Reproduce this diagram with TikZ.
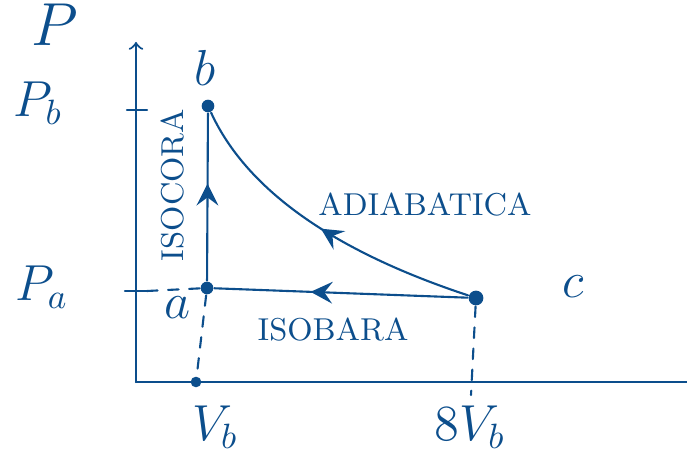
\documentclass[tikz,border=0pt]{standalone}
\usetikzlibrary{decorations.markings}
\definecolor{ink}{RGB}{12,78,140}
\tikzset{
  midarrow/.style={postaction={decorate},decoration={markings,mark=at position #1 with {\arrow[scale=1.7]{stealth}}}},
  punto/.style={circle,fill=ink,inner sep=0pt,minimum size=3.6pt},
  scritta/.style={font=\small}
}
\begin{document}
\begin{tikzpicture}[line join=round, line cap=round,>=stealth,color=ink,semithick]
			\useasboundingbox (0,0) rectangle (6.87,4.53);
			% assi
			\draw[-to] (1.36,0.71)--(1.36,4.11);
			\draw (1.36,0.71)--(6.87,0.71);
			\node at (0.55,4.28) {\LARGE $P$};
			% stati
			\node[punto] (a) at (2.07,1.65) {};
			\node[punto] (b) at (2.08,3.47) {};
			\node[punto,minimum size=4.2pt] (c) at (4.76,1.55) {};
			\node at (1.78,1.45) {\Large $a$};
			\node at (2.05,3.85) {\Large $b$};
			\node at (5.73,1.66) {\Large $c$};
			% pressioni
			\draw (1.27,3.43)--(1.47,3.43);
			\draw (1.25,1.62)--(1.47,1.62);
			\draw[dashed] (1.47,1.62)--(a);
			\node at (0.38,3.50) {\Large $P_b$};
			\node at (0.42,1.66) {\Large $P_a$};
			% volumi
			\coordinate (va) at (1.96,0.71);
			\coordinate (vc) at (4.71,0.58);
			\draw[dashed] (a)--(va);
			\draw[dashed] (c)--(vc);
			\draw[fill=ink] (va) circle(1.2pt);
			\node at (2.15,0.26) {\Large $V_b$};
			\node at (4.70,0.26) {\Large $8V_b$};
			% ciclo
			\draw[midarrow=0.58] (a)--(b);
			\draw[midarrow=0.5] (c) .. controls (3.7,1.9) and (2.55,2.45) .. (b);
			\draw[midarrow=0.62] (c)--(a);
			\node[scritta,rotate=90] at (1.73,2.68) {ISOCORA};
			\node[scritta] at (4.25,2.48) {ADIABATICA};
			\node[scritta] at (3.33,1.23) {ISOBARA};
		\end{tikzpicture}
\end{document}
